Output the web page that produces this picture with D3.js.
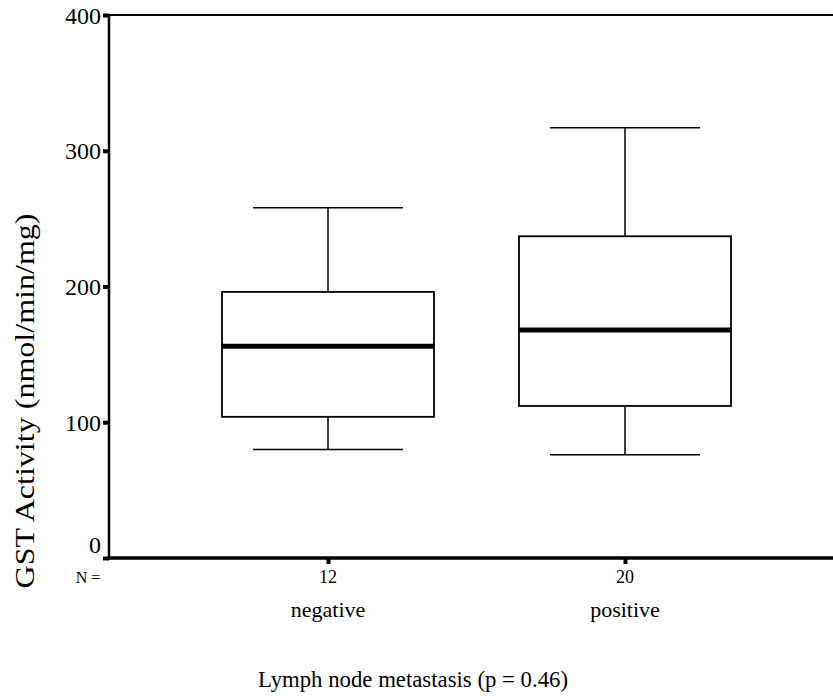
<!DOCTYPE html>
<html>
<head>
<meta charset="utf-8">
<script src="https://cdn.jsdelivr.net/npm/d3@7"></script>
<style>
  body { margin: 0; background: #fff; }
  svg { display: block; font-family: "Liberation Serif", "Times New Roman", serif; }
</style>
</head>
<body>
<div id="chart"></div>
<script>
// Data
const categories = ['negative', 'positive'];
const counts = [12, 20];
const whiskerLow = [80, 76];
const q1 = [104, 112];
const medians = [156, 168];
const q3 = [196, 237];
const whiskerHigh = [258, 317];
const yTicks = [0, 100, 200, 300, 400];

const width = 833, height = 698;
const margin = { top: 15, right: 0, bottom: 140, left: 109 };

const svg = d3.select('#chart')
    .append('svg')
    .attr('width', width)
    .attr('height', height);

const y = d3.scaleLinear()
    .domain([0, 400])
    .range([height - margin.bottom, margin.top]);

const x = d3.scalePoint()
    .domain(categories)
    .range([328, 625]);

const boxWidth = 212;
const capWidth = 150;

const boxes = categories.map((c, i) => ({
    k: c, n: counts[i],
    lo: whiskerLow[i], q1: q1[i], med: medians[i], q3: q3[i], hi: whiskerHigh[i]
}));

// frame: top line runs off the right edge
svg.append('line')
    .attr('x1', margin.left).attr('x2', width)
    .attr('y1', y(400)).attr('y2', y(400))
    .attr('stroke', '#000').attr('stroke-width', 2);

const g = svg.append('g');

// whiskers
g.selectAll('.whisker')
    .data(boxes)
    .join('line')
    .attr('class', 'whisker')
    .attr('x1', d => x(d.k)).attr('x2', d => x(d.k))
    .attr('y1', d => y(d.hi)).attr('y2', d => y(d.lo))
    .attr('stroke', '#000').attr('stroke-width', 1.5);

g.selectAll('.cap')
    .data(boxes.flatMap(d => [{ k: d.k, v: d.hi }, { k: d.k, v: d.lo }]))
    .join('line')
    .attr('class', 'cap')
    .attr('x1', d => x(d.k) - capWidth / 2).attr('x2', d => x(d.k) + capWidth / 2)
    .attr('y1', d => y(d.v)).attr('y2', d => y(d.v))
    .attr('stroke', '#000').attr('stroke-width', 1.5);

// boxes
g.selectAll('.box')
    .data(boxes)
    .join('rect')
    .attr('class', 'box')
    .attr('x', d => x(d.k) - boxWidth / 2)
    .attr('y', d => y(d.q3))
    .attr('width', boxWidth)
    .attr('height', d => y(d.q1) - y(d.q3))
    .attr('fill', '#fff')
    .attr('stroke', '#000').attr('stroke-width', 1.8);

// medians
g.selectAll('.median')
    .data(boxes)
    .join('line')
    .attr('class', 'median')
    .attr('x1', d => x(d.k) - boxWidth / 2).attr('x2', d => x(d.k) + boxWidth / 2)
    .attr('y1', d => y(d.med)).attr('y2', d => y(d.med))
    .attr('stroke', '#000').attr('stroke-width', 5);

// Axes
const yAxis = svg.append('g')
    .attr('transform', `translate(${margin.left}, 0)`)
    .call(d3.axisLeft(y).tickValues(yTicks).tickSize(6).tickFormat(''));
yAxis.select('.domain').attr('stroke-width', 2.5).attr('d', `M0,${y(400)}V${y(0)}`);
yAxis.selectAll('.tick line').attr('stroke-width', 4);

// y tick labels; the zero label sits above the axis line
svg.selectAll('.ylabel')
    .data(yTicks)
    .join('text')
    .attr('class', 'ylabel')
    .attr('x', 101)
    .attr('y', d => y(d) + (d === 0 ? -5 : 8.5))
    .attr('text-anchor', 'end')
    .style('font-size', '24px')
    .text(d => d);

const xAxis = svg.append('g')
    .attr('transform', `translate(0, ${y(0)})`)
    .call(d3.axisBottom(x).tickSize(6).tickFormat(''));
xAxis.select('.domain').attr('stroke-width', 3.5).attr('d', `M${margin.left},0H${width}`);
xAxis.selectAll('.tick line').attr('stroke-width', 4);

// N = counts
svg.append('text')
    .attr('x', 88).attr('y', y(0) + 25)
    .attr('text-anchor', 'middle')
    .style('font-size', '16px')
    .text('N =');

svg.selectAll('.count')
    .data(boxes)
    .join('text')
    .attr('class', 'count')
    .attr('x', d => x(d.k)).attr('y', y(0) + 25)
    .attr('text-anchor', 'middle')
    .style('font-size', '18px')
    .text(d => d.n);

svg.selectAll('.cat')
    .data(boxes)
    .join('text')
    .attr('class', 'cat')
    .attr('x', d => x(d.k)).attr('y', y(0) + 59)
    .attr('text-anchor', 'middle')
    .style('font-size', '22px')
    .text(d => d.k);

// Axis titles
svg.append('text')
    .attr('x', 413).attr('y', 687)
    .attr('text-anchor', 'middle')
    .style('font-size', '23px')
    .attr('textLength', 310)
    .attr('lengthAdjust', 'spacingAndGlyphs')
    .text('Lymph node metastasis (p = 0.46)');

svg.append('text')
    .attr('transform', 'translate(34, 401) rotate(-90)')
    .attr('text-anchor', 'middle')
    .style('font-size', '27px')
    .attr('textLength', 375)
    .attr('lengthAdjust', 'spacingAndGlyphs')
    .text('GST Activity (nmol/min/mg)');
</script>
</body>
</html>
